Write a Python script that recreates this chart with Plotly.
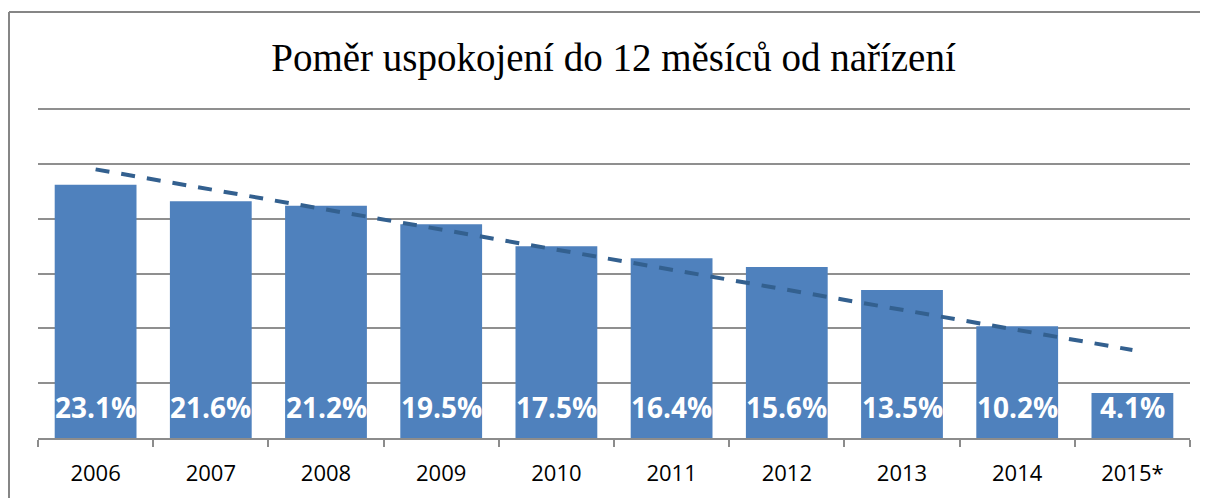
import numpy as np
import plotly.graph_objects as go

years = ["2006", "2007", "2008", "2009", "2010", "2011", "2012", "2013", "2014", "2015*"]
values = [23.1, 21.6, 21.2, 19.5, 17.5, 16.4, 15.6, 13.5, 10.2, 4.1]
labels = [f"{v:.1f}%" for v in values]
title_text = "Poměr uspokojení do 12 měsíců od nařízení"

OFF = 8  # page body margin in the browser
W, H = 1208 - OFF, 498 - OFF  # right and bottom run up to the window edge
# target plot area in page pixels: left 38, right 1190, top 107 (range top 30.2), baseline 438
L = 38 - OFF
R = W - (1190 - OFF)
T = 107 - OFF
B = H - (438 - OFF)

# linear trend fitted to the values
xi = np.arange(len(values))
slope, intercept = np.polyfit(xi, values, 1)
trend = [float(v) for v in (slope * xi + intercept)]

fig = go.Figure()
fig.add_trace(go.Bar(x=years, y=values, marker=dict(color="#4F81BD", line=dict(width=0)),
                     hoverinfo="skip"))
fig.add_trace(go.Scatter(x=years, y=trend, mode="lines",
                         line=dict(color="#33608F", width=4, dash="14px,12px"),
                         hoverinfo="skip"))

# category axis: annotation x given as category index
for i, lab in enumerate(labels):
    fig.add_annotation(x=i, y=0, text=f"<b>{lab}</b>", showarrow=False,
                       yanchor="middle", yshift=31,
                       font=dict(family="Open Sans", size=28, color="white"))

# chart-area border: only the left and top edges fall inside the picture
pw, ph = W - L - R, H - T - B
bx0 = (9 - OFF - L) / pw
by1 = (H - B - (12 - OFF)) / ph
border = dict(color="#868686", width=2)
fig.add_shape(type="line", xref="paper", yref="paper", x0=bx0, x1=bx0,
              y0=-(B + 5) / ph, y1=by1, line=border, layer="below")
fig.add_shape(type="line", xref="paper", yref="paper", x0=bx0, x1=(W + 5 - L) / pw,
              y0=by1, y1=by1, line=border, layer="below")

fig.update_layout(
    width=W, height=H,
    margin=dict(l=L, r=R, t=T, b=B, autoexpand=False),
    paper_bgcolor="white", plot_bgcolor="white",
    showlegend=False,
    bargap=0.29,
    title=dict(text=title_text, x=((265 + 962) / 2 - OFF) / W, xanchor="center",
               y=1 - (57 - OFF) / H, yanchor="middle", yref="container",
               font=dict(family="Liberation Serif", size=39, color="black")),
    xaxis=dict(type="category", range=[-0.5, len(years) - 0.5],
               showline=True, linecolor="#8C8C8C", linewidth=2,
               ticks="outside", ticklen=7, tickcolor="#8C8C8C", tickwidth=2,
               tickson="boundaries", showgrid=False, tickangle=0,
               tickfont=dict(family="Open Sans", size=22, color="black"),
               ticklabelstandoff=15, fixedrange=True),
    yaxis=dict(range=[0, 30.2], dtick=5, showticklabels=False, showgrid=True,
               gridcolor="#8F8F8F", gridwidth=1.5, zeroline=False, showline=False,
               fixedrange=True),
)

fig.write_html("out.html", config={"displayModeBar": False},
               post_script="document.documentElement.style.overflow='hidden';")
